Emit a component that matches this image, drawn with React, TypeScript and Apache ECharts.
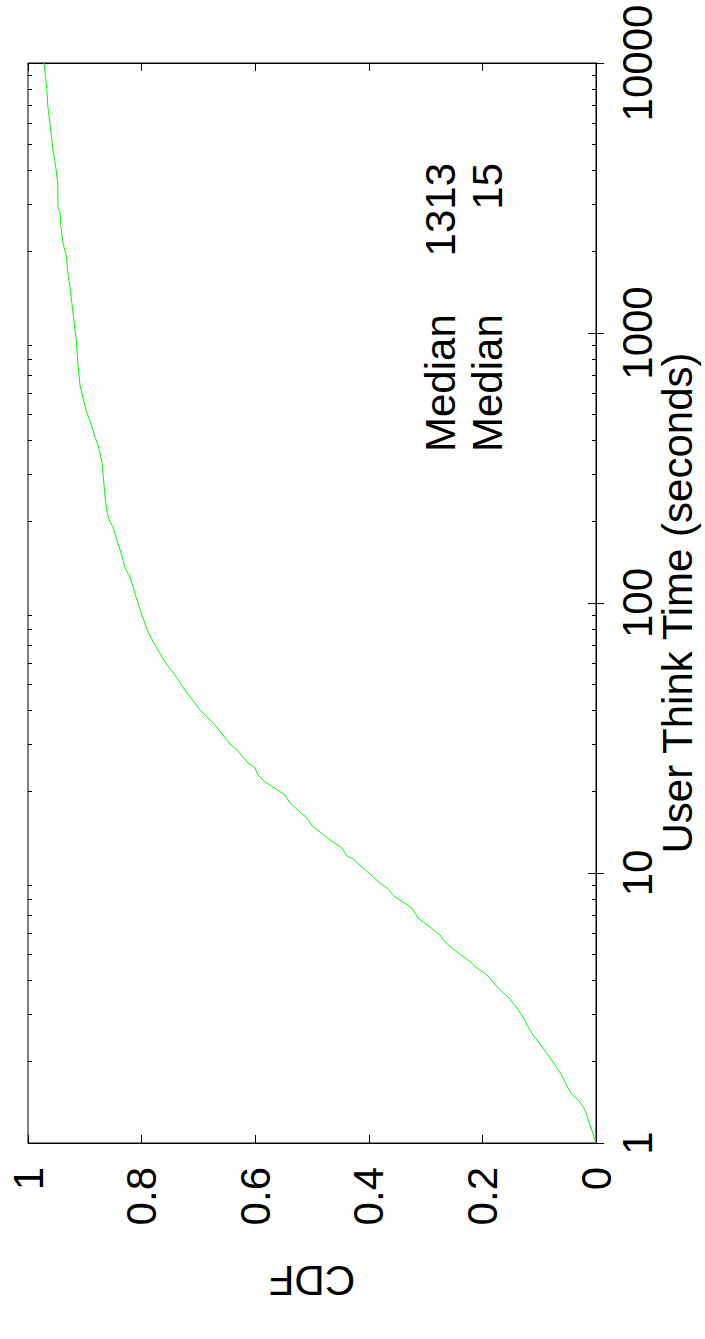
import React, { useEffect, useRef } from "react";
import * as echarts from "echarts";

// Think time (seconds) and the matching CDF value
const thinkTime = [
  1, 1.325, 1.419, 1.506, 1.598, 1.786, 1.995, 2.248, 2.512, 2.735, 2.929, 3.162, 3.3, 3.473,
  3.751, 3.948, 4.192, 4.449, 4.763, 5.098, 5.552, 5.893, 6.31, 6.813, 7.421, 7.807, 8.147,
  8.799, 9.184, 11.27, 11.56, 12.38, 13.25, 14.19, 14.81, 15.99, 16.82, 18.17, 19.45, 20.83,
  21.73, 23.07, 24.49, 25.55, 26.9, 28.55, 30.05, 35.33, 40.16, 47.62, 54.12, 60.45, 69.89,
  78.08, 90.28, 102.6, 114.6, 124.8, 134.8, 144.3, 157.1, 171.1, 191.2, 199.5, 217.3, 247.0,
  303.0, 330.0, 359.4, 384.8, 412.0, 448.6, 472.2, 518.6, 574.4, 641.8, 761.2, 958.3, 1186,
  1480, 1669, 1896, 2154, 2470, 2806, 2904, 3594, 4120, 4762, 5551, 6813, 8147, 10000,
];
const cdfValues = [
  0, 0.0194, 0.0282, 0.041, 0.0493, 0.0604, 0.0757, 0.0933, 0.1109, 0.1215, 0.1285, 0.1391,
  0.1461, 0.1549, 0.1725, 0.1813, 0.1919, 0.2095, 0.2254, 0.2447, 0.2658, 0.2746, 0.2923,
  0.3134, 0.3239, 0.3398, 0.3539, 0.368, 0.3803, 0.4278, 0.4384, 0.4472, 0.4683, 0.4859,
  0.4982, 0.5088, 0.5211, 0.5387, 0.5475, 0.5687, 0.5827, 0.5951, 0.6004, 0.6127, 0.6215,
  0.632, 0.6444, 0.6708, 0.6972, 0.7236, 0.7412, 0.7588, 0.7764, 0.7887, 0.7993, 0.8081,
  0.8151, 0.8204, 0.8292, 0.8327, 0.838, 0.8433, 0.8504, 0.8556, 0.8609, 0.8644, 0.868,
  0.8697, 0.8732, 0.8768, 0.882, 0.8873, 0.8908, 0.8979, 0.9032, 0.9085, 0.912, 0.9155,
  0.9208, 0.9261, 0.9301, 0.9319, 0.9384, 0.9419, 0.9437, 0.9472, 0.9477, 0.9512, 0.956,
  0.9595, 0.9648, 0.9671, 0.972,
];

const timeMin = 1;
const timeMax = 10000;
const decadeStarts = [1, 10, 100, 1000];
const minorMultipliers = [2, 3, 4, 5, 6, 7, 8, 9];
const minorTicks: number[] = [];
decadeStarts.forEach((d) => minorMultipliers.forEach((m) => minorTicks.push(d * m)));

const annotationLabels = ["Median", "Median"];
const annotationValues = ["1313", "15"];

const xName = "User Think Time (seconds)";
const yName = "CDF";

const FONT = "'Liberation Sans', Arial, Helvetica, sans-serif";
const FS = 42;

export default function App() {
  const ref = useRef<HTMLDivElement>(null);
  useEffect(() => {
    if (!ref.current) return;
    document.body.style.margin = "0";
    document.body.style.overflow = "hidden";
    const chart = echarts.init(ref.current, undefined, { renderer: "svg" });
    const black = { color: "#000", width: 1 };
    const hiddenLabel = { show: false };
    const noSplit = { show: false };
    const logBase = {
      type: "log" as const,
      logBase: 10,
      min: timeMin,
      max: timeMax,
      splitLine: noSplit,
      minorSplitLine: { show: false },
    };
    const option: any = {
      animation: false,
      backgroundColor: "#fff",
      grid: {
        left: 28,
        top: 63,
        right: 109,
        bottom: 196,
        show: true,
        borderColor: "#000",
        borderWidth: 1,
        containLabel: false,
        outerBoundsMode: "none",
      },
      xAxis: [
        {
          type: "value",
          min: 0,
          max: 1,
          interval: 0.2,
          inverse: true,
          position: "bottom",
          axisLine: { show: true, lineStyle: black },
          axisTick: { show: true, inside: true, length: 8, lineStyle: black },
          axisLabel: {
            rotate: 90,
            margin: 24,
            fontSize: FS,
            fontFamily: FONT,
            color: "#000",
          },
          splitLine: noSplit,
          name: yName,
          nameLocation: "middle",
          nameRotate: 180,
          nameGap: 116,
          nameMoveOverlap: false,
          nameTextStyle: { fontSize: FS, fontFamily: FONT, color: "#000" },
        },
        {
          type: "value",
          min: 0,
          max: 1,
          interval: 0.2,
          inverse: true,
          position: "top",
          axisLine: { show: true, lineStyle: black },
          axisTick: { show: true, inside: true, length: 8, lineStyle: black },
          axisLabel: hiddenLabel,
          splitLine: noSplit,
        },
      ],
      yAxis: [
        {
          ...logBase,
          position: "right",
          axisLine: { show: true, lineStyle: black },
          axisTick: { show: true, inside: true, length: 8, lineStyle: black },
          axisLabel: {
            rotate: 90,
            margin: 20,
            fontSize: FS,
            fontFamily: FONT,
            color: "#000",
            formatter: (v: number) => String(Math.round(v)),
          },
          name: xName,
          nameLocation: "middle",
          nameRotate: 90,
          nameGap: 60,
          nameMoveOverlap: false,
          nameTextStyle: { fontSize: FS, fontFamily: FONT, color: "#000" },
        },
        {
          ...logBase,
          position: "left",
          axisLine: { show: true, lineStyle: black },
          axisTick: { show: true, inside: true, length: 8, lineStyle: black },
          axisLabel: hiddenLabel,
        },
        {
          ...logBase,
          position: "right",
          axisLine: { show: false },
          axisTick: {
            show: true,
            inside: true,
            length: 4,
            lineStyle: black,
            customValues: minorTicks,
          },
          axisLabel: hiddenLabel,
        },
        {
          ...logBase,
          position: "left",
          axisLine: { show: false },
          axisTick: {
            show: true,
            inside: true,
            length: 4,
            lineStyle: black,
            customValues: minorTicks,
          },
          axisLabel: hiddenLabel,
        },
      ],
      series: [
        {
          type: "line",
          xAxisIndex: 0,
          yAxisIndex: 0,
          data: thinkTime.map((t, i) => [cdfValues[i], t]),
          showSymbol: false,
          symbol: "none",
          lineStyle: { color: "#00ff00", width: 1 },
          z: 1,
        },
      ],
      graphic: annotationLabels.flatMap((lbl, i) => [
        {
          type: "text",
          x: 440 + i * 47,
          y: 452,
          rotation: Math.PI / 2,
          style: {
            text: lbl,
            fontSize: FS,
            fontFamily: FONT,
            fill: "#000",
            align: "left",
            verticalAlign: "middle",
          },
        },
        {
          type: "text",
          x: 440 + i * 47,
          y: 163,
          rotation: Math.PI / 2,
          style: {
            text: annotationValues[i],
            fontSize: FS,
            fontFamily: FONT,
            fill: "#000",
            align: "right",
            verticalAlign: "middle",
          },
        },
      ]),
    };
    chart.setOption(option);
    return () => chart.dispose();
  }, []);
  return (
    <div
      ref={ref}
      style={{ position: "absolute", left: 0, top: 0, width: 705, height: 1339 }}
    />
  );
}
